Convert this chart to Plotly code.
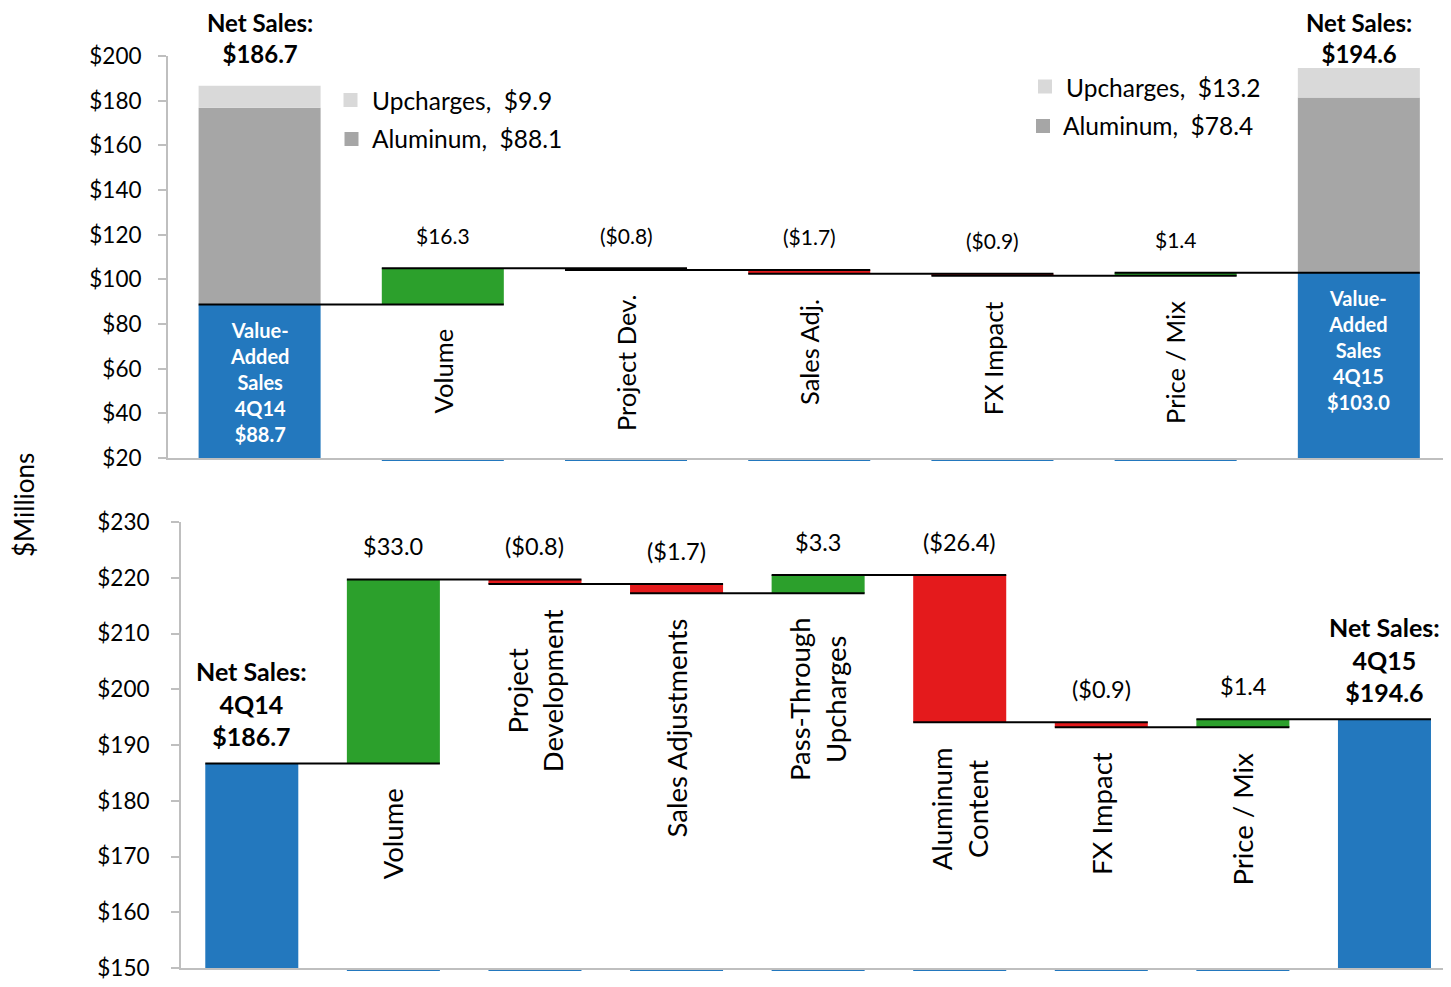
import plotly.graph_objects as go

W, H = 1451, 987          # reference canvas
OFF = 8                   # page body margin in the browser
FW, FH = W - OFF, H - OFF  # figure size so that figure px + 8 == reference px
FONT = "Lato"

# ---------------- data ----------------
# Top panel: value-added sales bridge
top_start = 88.7
top_deltas = [16.3, -0.8, -1.7, -0.9, 1.4]
top_end = 103.0
top_aluminum = [88.1, 78.4]
top_upcharges = [9.9, 13.2]
top_net_sales = [186.7, 194.6]
top_value_labels = ["$16.3", "($0.8)", "($1.7)", "($0.9)", "$1.4"]
top_cat_labels = ["Volume", "Project Dev.", "Sales Adj.", "FX Impact", "Price / Mix"]
top_total_labels = ["Value-<br>Added<br>Sales<br>4Q14<br>$88.7",
                    "Value-<br>Added<br>Sales<br>4Q15<br>$103.0"]
top_legend_labels = [["Upcharges,\u00a0\u00a0$9.9", "Aluminum,\u00a0\u00a0$88.1"],
                     ["Upcharges,\u00a0\u00a0$13.2", "Aluminum,\u00a0\u00a0$78.4"]]

# Bottom panel: net sales bridge
bot_start = 186.7
bot_deltas = [33.0, -0.8, -1.7, 3.3, -26.4, -0.9, 1.4]
bot_end = 194.6
bot_value_labels = ["$33.0", "($0.8)", "($1.7)", "$3.3", "($26.4)", "($0.9)", "$1.4"]
bot_cat_labels = ["Volume", "Project<br>Development", "Sales Adjustments",
                  "Pass-Through<br>Upcharges", "Aluminum<br>Content", "FX Impact", "Price / Mix"]
bot_total_labels = ["<b>Net Sales:<br>4Q14<br>$186.7</b>", "<b>Net Sales:<br>4Q15<br>$194.6</b>"]

top_yticks = [20, 40, 60, 80, 100, 120, 140, 160, 180, 200]
bot_yticks = [150, 160, 170, 180, 190, 200, 210, 220, 230]

BLUE = "#2378BE"
GREEN = "#2CA02C"
RED = "#E41A1C"
ALU = "#A6A6A6"
UPC = "#D9D9D9"
AXIS = "#BFBFBF"


def px2x(p):
    return (p - OFF) / FW


def px2y(p):
    return 1 - (p - OFF) / FH


fig = go.Figure()


def levels_of(start, deltas):
    lv = [start]
    for d in deltas:
        lv.append(round(lv[-1] + d, 4))
    return lv


def add_bridge(start, deltas, end, xa, ya, width, vfont, cfont, value_labels, cat_labels, sliver_px):
    lv = levels_of(start, deltas)
    n = len(deltas)
    # totals
    fig.add_trace(go.Bar(x=[0, n + 1], y=[start, end], base=[0, 0], width=width,
                         marker=dict(color=BLUE, line=dict(width=0)),
                         xaxis=xa, yaxis=ya, showlegend=False, hoverinfo="skip"))
    # deltas
    xs = list(range(1, n + 1))
    fig.add_trace(go.Bar(x=xs, y=[abs(d) for d in deltas],
                         base=[min(lv[i], lv[i + 1]) for i in range(n)], width=width,
                         marker=dict(color=[GREEN if d >= 0 else RED for d in deltas], line=dict(width=0)),
                         xaxis=xa, yaxis=ya, showlegend=False, hoverinfo="skip"))
    # connectors
    cx, cy = [], []
    for i in range(n + 1):
        cx += [i - width / 2, i + 1 + width / 2, None]
        cy += [lv[i], lv[i], None]
    fig.add_trace(go.Scatter(x=cx, y=cy, mode="lines", line=dict(color="black", width=2),
                             xaxis=xa, yaxis=ya, showlegend=False, hoverinfo="skip"))
    for i in range(n):
        top = max(lv[i], lv[i + 1])
        bot = min(lv[i], lv[i + 1])
        fig.add_annotation(x=i + 1, y=top, xref=xa, yref=ya, text=value_labels[i],
                           showarrow=False, yanchor="middle", yshift=33,
                           font=dict(family=FONT, size=vfont, color="black"))
        fig.add_annotation(x=i + 1, y=bot, xref=xa, yref=ya, text=cat_labels[i],
                           showarrow=False, yanchor="top", yshift=-23, textangle=-90,
                           align="center", font=dict(family=FONT, size=cfont, color="black"))
        # thin blue sliver just under the axis (hidden base series in the original)
        fig.add_shape(type="rect", xref=xa, yref="paper",
                      x0=i + 1 - width / 2, x1=i + 1 + width / 2,
                      y0=px2y(sliver_px + 2), y1=px2y(sliver_px),
                      fillcolor=BLUE, line=dict(width=0), layer="below")
    return lv


# top bridge
lv_top = add_bridge(top_start, top_deltas, top_end, "x", "y", 0.666, 21, 25.5,
                    top_value_labels, top_cat_labels, 459)
n_top = len(top_deltas)
tot_x = [0, n_top + 1]
tot_base = [top_start, top_end]
fig.add_trace(go.Bar(x=tot_x, y=top_aluminum, base=tot_base, width=0.666,
                     marker=dict(color=ALU, line=dict(width=0)), showlegend=False, hoverinfo="skip"))
fig.add_trace(go.Bar(x=tot_x, y=top_upcharges,
                     base=[b + a for b, a in zip(tot_base, top_aluminum)], width=0.666,
                     marker=dict(color=UPC, line=dict(width=0)), showlegend=False, hoverinfo="skip"))
for k, xv in enumerate(tot_x):
    fig.add_annotation(x=xv, y=tot_base[k], xref="x", yref="y", text="<b>" + top_total_labels[k] + "</b>",
                       showarrow=False, yanchor="top", yshift=-11,
                       font=dict(family=FONT, size=20, color="white"))
    fig.add_annotation(x=xv, y=px2y(37.5), xref="x", yref="paper",
                       text="<b>Net Sales:<br>$%.1f</b>" % top_net_sales[k],
                       showarrow=False, yanchor="middle", borderpad=0,
                       font=dict(family=FONT, size=24, color="black"))

# legend-like labels for stacked segments
leg_sq = [[(350.5, 100), (351.5, 139)], [(1045, 86.5), (1043, 126)]]
leg_tx = [[(370, 100), (370, 139)], [(1064, 87), (1061, 126)]]
for g in range(2):
    for j, col in enumerate([UPC, ALU]):
        sx, sy = leg_sq[g][j]
        fig.add_shape(type="rect", xref="paper", yref="paper",
                      x0=px2x(sx - 7), x1=px2x(sx + 7), y0=px2y(sy + 7), y1=px2y(sy - 7),
                      fillcolor=col, line=dict(width=0))
        tx, ty = leg_tx[g][j]
        fig.add_annotation(x=px2x(tx), y=px2y(ty), xref="paper", yref="paper",
                           text=top_legend_labels[g][j], showarrow=False,
                           xanchor="left", yanchor="middle",
                           font=dict(family=FONT, size=24.5, color="black"))

# bottom bridge
lv_bot = add_bridge(bot_start, bot_deltas, bot_end, "x2", "y2", 0.657, 23.5, 27.5,
                    bot_value_labels, bot_cat_labels, 969)
n_bot = len(bot_deltas)
for k, (xv, yv) in enumerate([(0, bot_start), (n_bot + 1, bot_end)]):
    fig.add_annotation(x=xv, y=yv, xref="x2", yref="y2", text=bot_total_labels[k],
                       showarrow=False, yanchor="bottom", yshift=10,
                       font=dict(family=FONT, size=25, color="black"))

fig.add_annotation(x=px2x(24), y=px2y(505), xref="paper", yref="paper", text="$Millions",
                   showarrow=False, textangle=-90, xanchor="center", yanchor="middle", borderpad=0,
                   font=dict(family=FONT, size=26, color="black"))

axis_common = dict(showgrid=False, zeroline=False, automargin=False)
fig.update_layout(
    width=FW, height=FH,
    margin=dict(l=0, r=0, t=0, b=0, autoexpand=False),
    paper_bgcolor="white", plot_bgcolor="rgba(0,0,0,0)",
    barmode="overlay",
    font=dict(family=FONT, color="black"),
    xaxis=dict(domain=[px2x(168), 1], range=[-0.5, (W - 259) / 183.3], showticklabels=False, ticks="",
               showline=True, linecolor=AXIS, linewidth=2, anchor="y", **axis_common),
    yaxis=dict(domain=[px2y(458), px2y(56)], range=[20, 200], tickvals=top_yticks,
               ticktext=["$%d" % v for v in top_yticks], ticks="outside", ticklen=8,
               tickcolor=AXIS, tickwidth=2, showline=True, linecolor=AXIS, linewidth=2,
               ticklabelstandoff=12, tickfont=dict(family=FONT, size=22.5, color="black"),
               anchor="x", **axis_common),
    xaxis2=dict(domain=[px2x(181), 1], range=[-0.5, (W - 252) / 141.56], showticklabels=False,
                ticks="", showline=True, linecolor=AXIS, linewidth=2, anchor="y2", **axis_common),
    yaxis2=dict(domain=[px2y(968), px2y(522)], range=[150, 230], tickvals=bot_yticks,
                ticktext=["$%d" % v for v in bot_yticks], ticks="outside", ticklen=8,
                tickcolor=AXIS, tickwidth=2, showline=True, linecolor=AXIS, linewidth=2,
                ticklabelstandoff=17, tickfont=dict(family=FONT, size=22.5, color="black"),
                anchor="x2", **axis_common),
)

fig.write_html("out.html")
